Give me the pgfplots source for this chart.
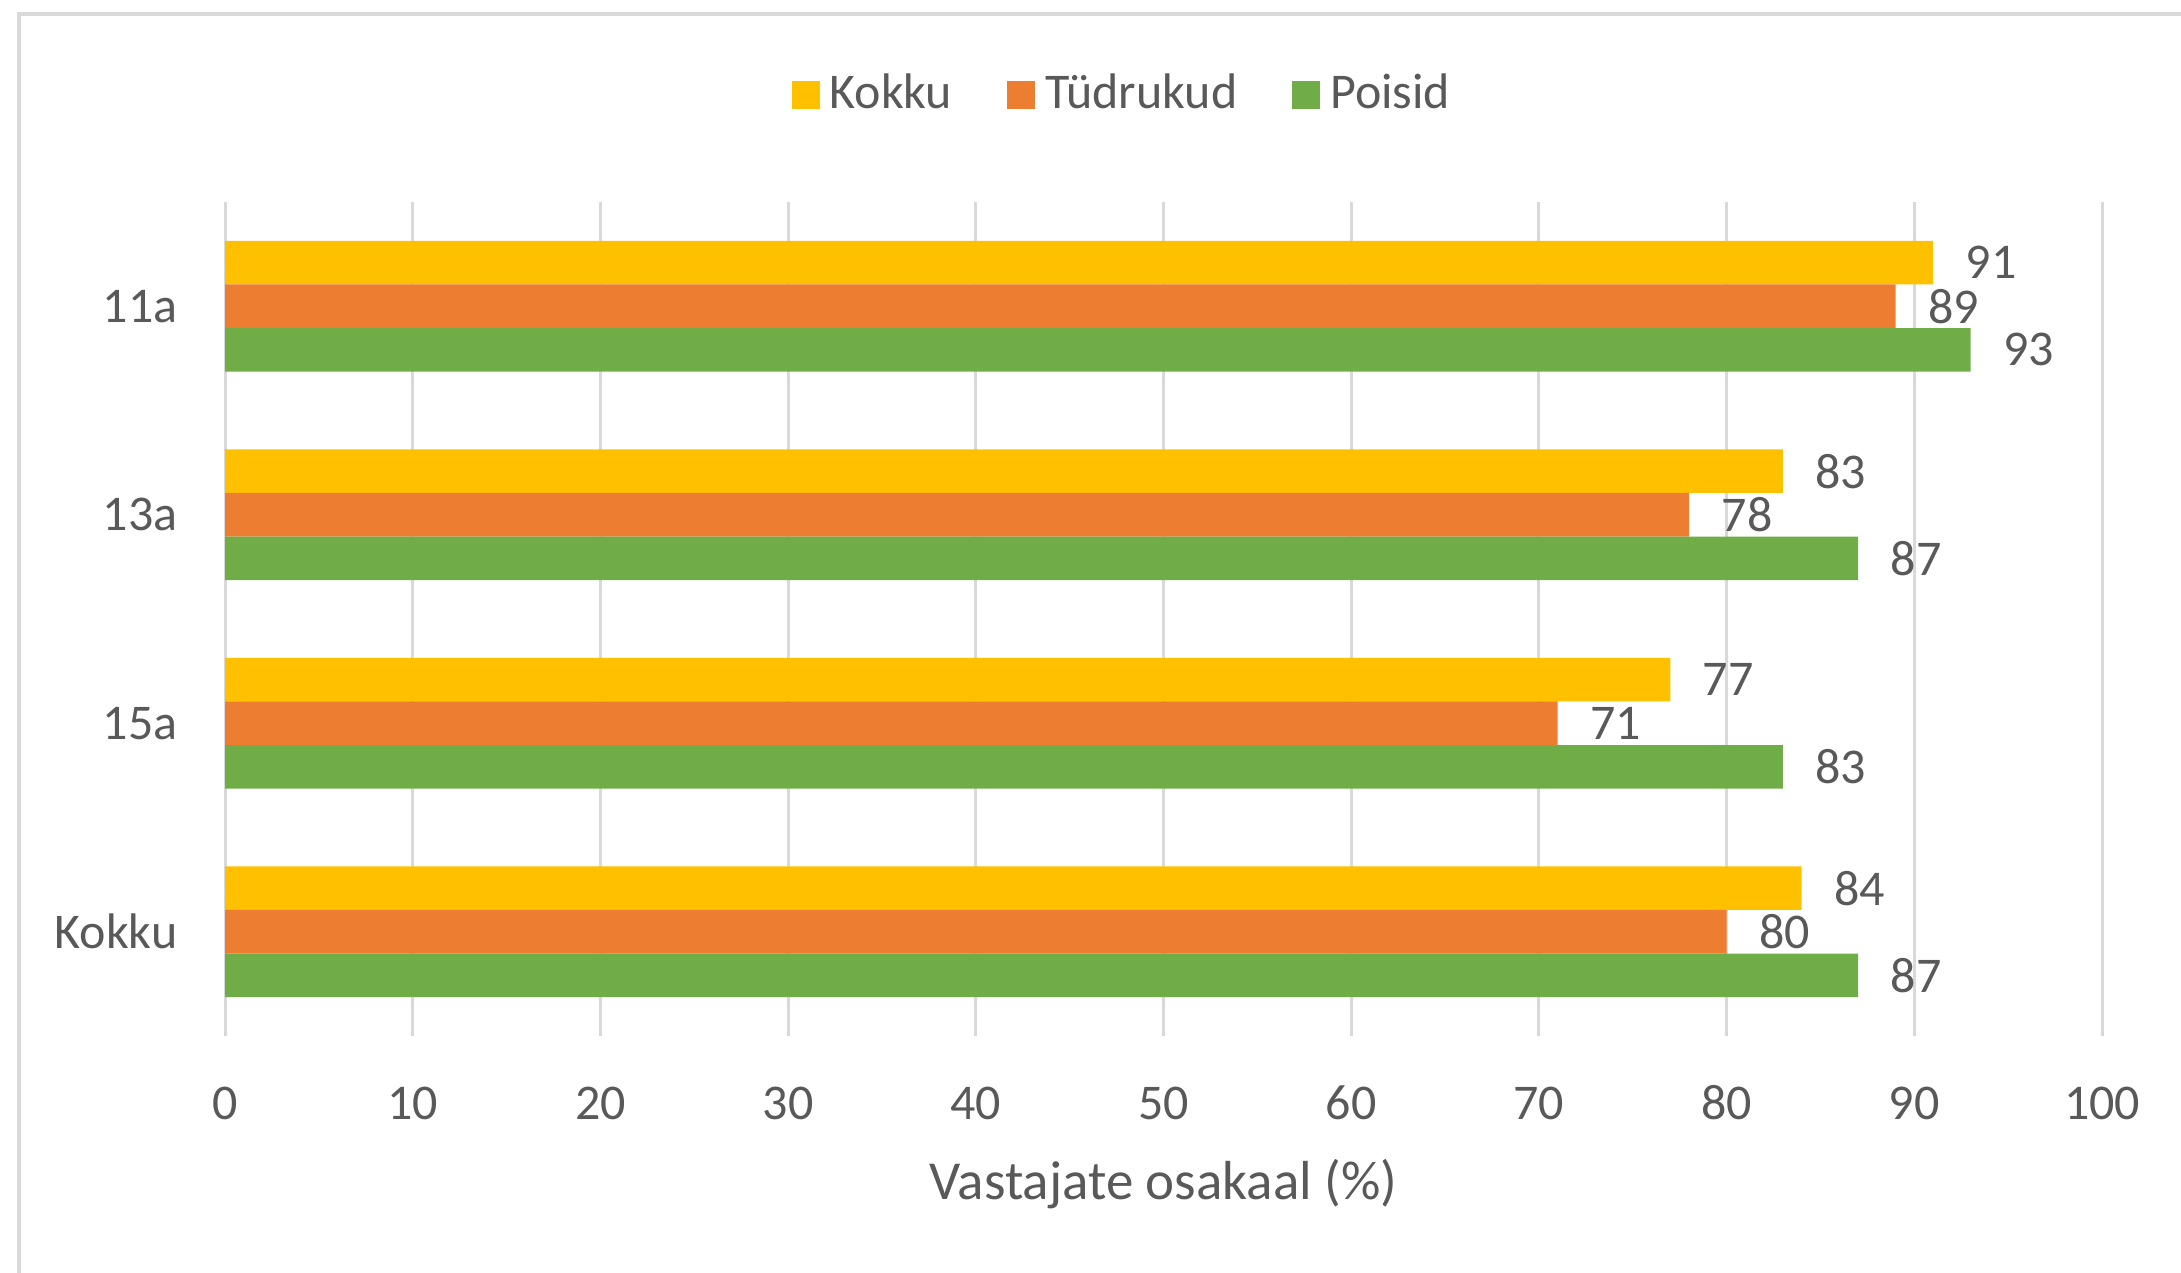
\documentclass[border=0pt]{standalone}
\usepackage{pgfplots}
\pgfplotsset{compat=1.18}
\usepackage{fontspec}
\setmainfont{Carlito}
\definecolor{cyellow}{HTML}{FFC000}
\definecolor{corange}{HTML}{ED7D31}
\definecolor{cgreen}{HTML}{70AD47}
\definecolor{cgrid}{HTML}{D9D9D9}
\definecolor{ctext}{HTML}{595959}
\begin{document}
\begin{tikzpicture}
\draw[cgrid, line width=0.8pt] (3.8pt,-5pt) -- (3.8pt,251.6pt) -- (445pt,251.6pt);
\begin{axis}[
 at={(45pt,47.2pt)}, anchor=south west,
 scale only axis, width=375.4pt, height=166.8pt,
 xbar, bar width=0.209,
 xmin=0, xmax=100, ymin=-0.5, ymax=3.5,
 xtick={0,10,...,100}, ytick={0,1,2,3},
 yticklabels={Kokku,15a,13a,11a},
 xmajorgrids, grid style={cgrid, line width=0.6pt},
 axis line style={draw=none}, major tick length=0pt,
 tick label style={font=\fontsize{10}{12}\selectfont, color=ctext},
 /pgf/number format/assume math mode=true,
 xticklabel style={anchor=center, yshift=-13.4pt},
 yticklabel style={anchor=east, xshift=-6pt},
 xlabel={Vastajate osakaal (\%)},
 xlabel style={at={(axis description cs:0.5,0)}, anchor=center, yshift=-29.6pt, font=\fontsize{11}{13}\selectfont, color=ctext},
 nodes near coords, nodes near coords align=horizontal,
 every node near coord/.append style={anchor=west, font=\fontsize{10}{12}\selectfont, color=ctext, xshift=3pt},
 legend columns=3,
 legend style={at={(0.480,1.128)}, anchor=center, draw=none, fill=none, font=\fontsize{10}{12}\selectfont, text=ctext, /tikz/every even column/.append style={column sep=9pt}},
 legend image code/.code={\fill[#1, draw=none] (0pt,-2.8pt) rectangle (5.6pt,2.8pt);},
]
\addplot[fill=cyellow, draw=none, bar shift=0.209] coordinates {(91,3) (83,2) (77,1) (84,0)};
\addplot[fill=corange, draw=none, bar shift=0] coordinates {(89,3) (78,2) (71,1) (80,0)};
\addplot[fill=cgreen, draw=none, bar shift=-0.209] coordinates {(93,3) (87,2) (83,1) (87,0)};
\legend{Kokku, Tüdrukud, Poisid}
\end{axis}
\pgfresetboundingbox
\useasboundingbox (0,0) rectangle (436.2pt,254.4pt);
\end{tikzpicture}
\end{document}
